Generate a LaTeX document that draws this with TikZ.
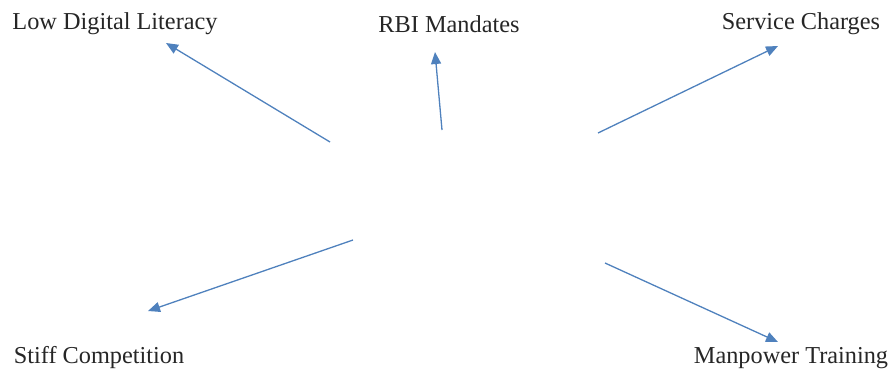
\documentclass[tikz,border=0pt]{standalone}
\usepackage{fontspec}
\setmainfont{Liberation Serif}
\usetikzlibrary{arrows.meta}
\definecolor{arrowblue}{RGB}{79,129,189}
\tikzset{
  label text/.style={font=\fontsize{24.3}{26}\selectfont, text=black!85, inner sep=0pt},
  factor arrow/.style={draw=arrowblue, line width=1.3pt, -{Triangle[length=12pt,width=10pt]}}
}
\begin{document}
\begin{tikzpicture}[x=1pt,y=-1pt]
  \useasboundingbox (0,0) rectangle (889,373);
  % labels
  \node[label text] (ldl) at (115,24) {Low Digital Literacy};
  \node[label text] (rbi) at (449,24) {RBI Mandates};
  \node[label text] (svc) at (801,24) {Service Charges};
  \node[label text] (stf) at (99,358) {Stiff Competition};
  \node[label text] (mpt) at (791,358) {Manpower Training};
  % arrow start and end points
  \coordinate (s1) at (330,142); \coordinate (e1) at (166,43);
  \coordinate (s2) at (442,130); \coordinate (e2) at (435,52);
  \coordinate (s3) at (598,133); \coordinate (e3) at (778,46);
  \coordinate (s4) at (353,240); \coordinate (e4) at (148,311);
  \coordinate (s5) at (605,263); \coordinate (e5) at (778,342);
  % arrows
  \draw[factor arrow] (s1) -- (e1);
  \draw[factor arrow] (s2) -- (e2);
  \draw[factor arrow] (s3) -- (e3);
  \draw[factor arrow] (s4) -- (e4);
  \draw[factor arrow] (s5) -- (e5);
\end{tikzpicture}
\end{document}
